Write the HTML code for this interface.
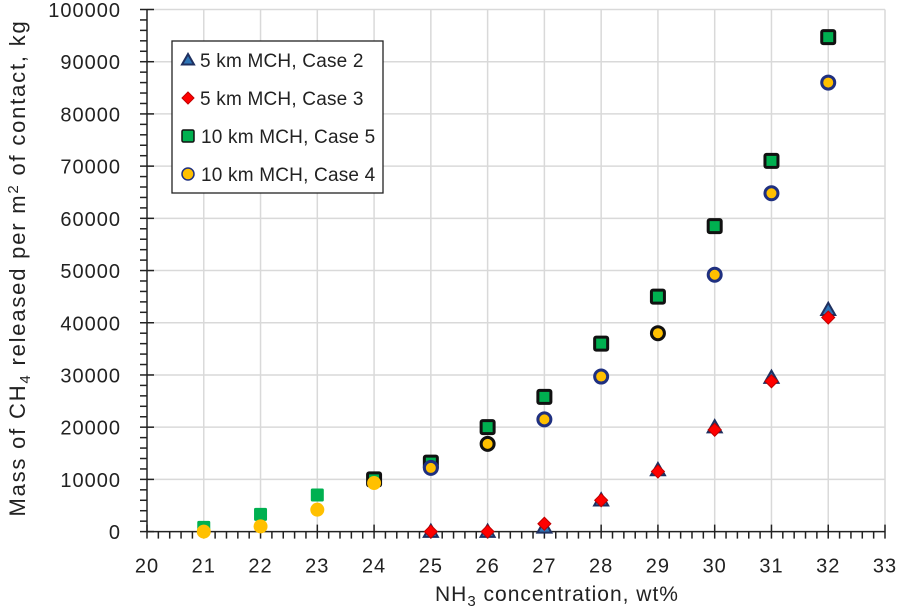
<!DOCTYPE html>
<html><head><meta charset="utf-8"><style>
body{margin:0;background:#fff;width:900px;height:610px;overflow:hidden;font-family:"Liberation Sans",sans-serif}
svg text{font-family:"Liberation Sans",sans-serif;fill:#222}
</style></head><body>
<svg id="chart" width="900" height="610"></svg>
<script>
const xCats=[21,22,23,24,25,26,27,28,29,30,31,32];
const case2=[null,null,null,null,0,0,800,6000,11800,20000,29500,42500];
const case3=[null,null,null,null,0,0,1500,6000,11500,19500,28800,41000];
const case5=[800,3300,7000,10000,13200,20000,25800,36000,45000,58500,71000,94700];
const case4=[0,1000,4200,9300,12200,16800,21500,29700,38000,49200,64800,86000];
const xTicks=[20,21,22,23,24,25,26,27,28,29,30,31,32,33];
const yTicks=[0,10000,20000,30000,40000,50000,60000,70000,80000,90000,100000];

const NS='http://www.w3.org/2000/svg';
const svg=document.getElementById('chart');
const X0=147,X1=885,Y0=531.6,Y1=9.5;
const sx=v=>X0+(v-20)/(33-20)*(X1-X0);
const sy=v=>Y0-(v/100000)*(Y0-Y1);
function mk(tag,attrs,parent){const e=document.createElementNS(NS,tag);for(const k in attrs)e.setAttribute(k,attrs[k]);(parent||svg).appendChild(e);return e;}

const grid=mk('g',{});


xTicks.forEach(t=>{if(t>20)mk('line',{x1:sx(t),x2:sx(t),y1:Y1,y2:Y0,stroke:'#d9d9d9','stroke-width':1.5},grid);});
yTicks.forEach(t=>{if(t>0)mk('line',{x1:X0,x2:X1,y1:sy(t),y2:sy(t),stroke:'#d9d9d9','stroke-width':1.5},grid);});

const ax=mk('g',{stroke:'#222','stroke-width':1.5});


mk('line',{x1:X0,x2:X1,y1:Y0,y2:Y0},ax);
mk('line',{x1:X0,x2:X0,y1:Y1,y2:Y0},ax);
for(let v=20;v<=33.001;v+=0.2){const big=Math.abs(v-Math.round(v))<1e-6;mk('line',{x1:sx(v),x2:sx(v),y1:big?Y0-7:Y0,y2:Y0+7},ax);}
for(let v=0;v<=100000;v+=2000){const big=v%10000===0;mk('line',{x1:X0-7,x2:big?X0+7:X0,y1:sy(v),y2:sy(v)},ax);}

xTicks.forEach(t=>{const e=mk('text',{x:sx(t),y:Y0+41,'text-anchor':'middle','font-size':20,'letter-spacing':1});e.textContent=t;

});
yTicks.forEach(t=>{const e=mk('text',{x:121,y:sy(t)+7.5,'text-anchor':'end','font-size':20,'letter-spacing':1});e.textContent=t;

});

const xt=mk('text',{x:557,y:601,'text-anchor':'middle','font-size':21,'letter-spacing':1});
xt.innerHTML='NH<tspan font-size="15" dy="5">3</tspan><tspan dy="-5"> concentration, wt%</tspan>';


const yt=mk('text',{x:0,y:0,'text-anchor':'middle','font-size':22,'letter-spacing':1.8,transform:'translate(25,268) rotate(-90)'});
yt.innerHTML='Mass of CH<tspan font-size="15" dy="5">4</tspan><tspan dy="-5"> released per m</tspan><tspan font-size="15" dy="-7">2</tspan><tspan dy="7"> of contact, kg</tspan>';



function tri(g,x,y,s,fill,stroke){mk('polygon',{points:`${x},${y-s} ${x+s},${y+s*0.75} ${x-s},${y+s*0.75}`,fill,stroke,'stroke-width':2},g);}
function dia(g,x,y,s,fill){mk('polygon',{points:`${x},${y-s} ${x+s},${y} ${x},${y+s} ${x-s},${y}`,fill,stroke:'#c00000','stroke-width':1},g);}
function sq(g,x,y,s,fill,stroke,w){mk('rect',{x:x-s,y:y-s,width:2*s,height:2*s,fill,stroke,'stroke-width':w,rx:1.5},g);}
function circ(g,x,y,r,fill,stroke,w){mk('circle',{cx:x,cy:y,r,fill,stroke,'stroke-width':w},g);}

const g5=mk('g',{});
case5.forEach((v,i)=>{if(v==null)return;const x=sx(xCats[i]),y=sy(v);if(xCats[i]<24)sq(g5,x,y,6.5,'#00b050','none',0);else sq(g5,x,y,6.5,'#00b050','#111',3);});
const g4=mk('g',{});
case4.forEach((v,i)=>{if(v==null)return;const x=sx(xCats[i]),y=sy(v);if(xCats[i]<25)circ(g4,x,y,7,'#ffc000','none',0);else circ(g4,x,y,6.5,'#ffc000',xCats[i]===26||xCats[i]===29?'#111':'#1f3080',3);});
const g2=mk('g',{});
case2.forEach((v,i)=>{if(v==null)return;tri(g2,sx(xCats[i]),sy(v),7,'#2e75b6','#1f3060');});
const g3=mk('g',{});
case3.forEach((v,i)=>{if(v==null)return;dia(g3,sx(xCats[i]),sy(v),6.5,'#ff0000');});

const lg=mk('g',{});
mk('rect',{x:172,y:41,width:211,height:152,fill:'#fff',stroke:'#222','stroke-width':1.3},lg);
const labels=['5 km MCH, Case 2','5 km MCH, Case 3','10 km MCH, Case 5','10 km MCH, Case 4'];
labels.forEach((l,i)=>{const cy=60+i*38;
if(i===0)tri(lg,188,cy,6,'#2e75b6','#1f3060');
if(i===1)dia(lg,188,cy,6,'#ff0000');
if(i===2)sq(lg,188,cy,6,'#00b050','#111',1.5);
if(i===3)circ(lg,188,cy,6,'#ffc000','#1f3080',1.5);
const t=mk('text',{x:i<2?200:201,y:cy+7,'font-size':19,'letter-spacing':0.2},lg);t.textContent=l;

});
</script>
</body></html>
